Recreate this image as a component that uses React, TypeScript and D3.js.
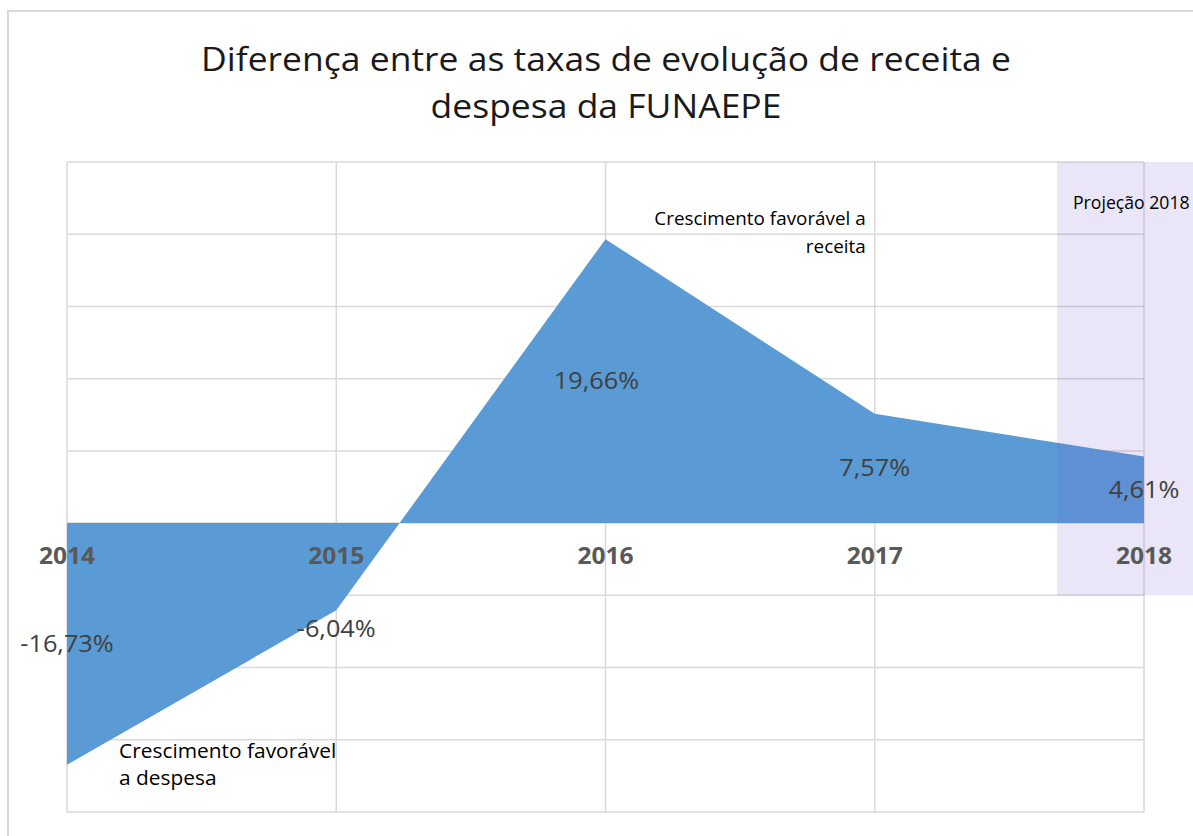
import React from "react";
import * as d3 from "d3";

const years = ["2014", "2015", "2016", "2017", "2018"];
const diffValues = [-16.73, -6.04, 19.66, 7.57, 4.61];
const valueLabels = ["-16,73%", "-6,04%", "19,66%", "7,57%", "4,61%"];
const yTicks = [-20, -15, -10, -5, 0, 5, 10, 15, 20, 25];
const titleLines = ["Diferença entre as taxas de evolução de receita e", "despesa da FUNAEPE"];

const W = 1193;
const H = 836;
const plot = { left: 67, right: 1144, top: 162, bottom: 812 };
const FONT = "'Open Sans', 'Noto Sans', sans-serif";

// text drawn a little wider than the font (the source chart is stretched)
const T = ({ x, y, sx = 1.08, children, ...rest }: any) => (
  <text transform={`translate(${x},${y}) scale(${sx},1)`} fontFamily={FONT} {...rest}>
    {children}
  </text>
);

export default function App() {
  const x = d3.scalePoint<string>().domain(years).range([plot.left, plot.right]);
  const y = d3.scaleLinear().domain([-20, 25]).range([plot.bottom, plot.top]);

  const pts = years.map((yr, i) => ({ yr, v: diffValues[i] }));
  const area = d3
    .area<{ yr: string; v: number }>()
    .x((d) => x(d.yr) as number)
    .y0(y(0))
    .y1((d) => y(d.v));

  // projection band starts a bit before 2018
  const step = x.step();
  const bandX = (x("2018") as number) - step * 0.323;
  const x17 = x("2017") as number;

  return (
    <svg
      width={W}
      height={H}
      style={{ position: "absolute", left: 0, top: 0, display: "block", background: "#fff" }}
    >
      <rect x={8} y={11} width={1200} height={900} fill="#fff" stroke="#d9d9d9" strokeWidth={2} />

      {titleLines.map((t, i) => (
        <T key={t} x={606} y={71 + i * 47} sx={1.06} textAnchor="middle" fontSize={33.5} fill="#1a1a1a">
          {t}
        </T>
      ))}

      {/* grid */}
      {yTicks.map((t) => (
        <line key={t} x1={plot.left} x2={plot.right} y1={y(t)} y2={y(t)} stroke="#d9d9d9" strokeWidth={1.5} />
      ))}
      {years.map((yr) => (
        <line
          key={yr}
          x1={x(yr)}
          x2={x(yr)}
          y1={plot.top}
          y2={plot.bottom}
          stroke="#d9d9d9"
          strokeWidth={1.5}
        />
      ))}

      <path d={area(pts) || ""} fill="#5b9bd5" />

      {/* projection band */}
      <rect
        x={bandX}
        y={plot.top}
        width={W - bandX + 10}
        height={y(-5) - plot.top}
        fill="rgb(120,90,200)"
        fillOpacity={0.15}
      />

      {/* category labels */}
      {years.map((yr) => (
        <T
          key={yr}
          x={x(yr)}
          y={y(0) + 41}
          sx={1.07}
          textAnchor="middle"
          fontSize={23}
          fontWeight="bold"
          fill="#595959"
        >
          {yr}
        </T>
      ))}

      {/* data labels */}
      {pts.map((d, i) => {
        const cy = i === 1 ? y(d.v) + 19 : (y(0) + y(d.v)) / 2;
        return (
          <T
            key={d.yr}
            x={(x(d.yr) as number) - (i === 2 ? 9 : 0)}
            y={cy + 8}
            sx={1.1}
            textAnchor="middle"
            fontSize={23}
            fill="#404040"
          >
            {valueLabels[i]}
          </T>
        );
      })}

      {/* annotations */}
      <T x={x17 - 9} y={y(20) - 9} sx={1.02} textAnchor="end" fontSize={18.5} fill="#000">
        Crescimento favorável a
      </T>
      <T x={x17 - 9} y={y(20) + 19} sx={1.02} textAnchor="end" fontSize={18.5} fill="#000">
        receita
      </T>
      <T x={plot.left + 52} y={y(-15) + 18} sx={1.02} fontSize={20.5} fill="#000">
        Crescimento favorável
      </T>
      <T x={plot.left + 52} y={y(-15) + 45} sx={1.02} fontSize={20.5} fill="#000">
        a despesa
      </T>
      <T x={1073} y={209} sx={1.02} fontSize={17.3} fill="#000">
        Projeção 2018
      </T>
    </svg>
  );
}
